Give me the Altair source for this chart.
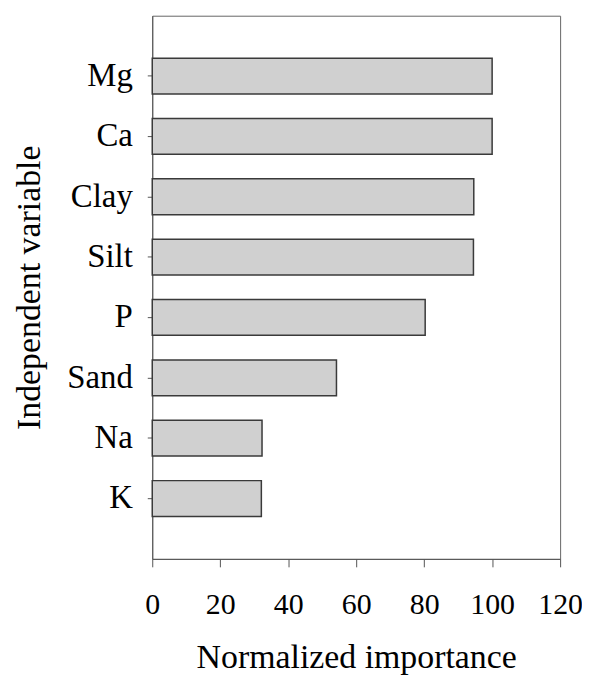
import altair as alt
import pandas as pd

variables = ["Mg", "Ca", "Clay", "Silt", "P", "Sand", "Na", "K"]
importance = [100, 100, 94.6, 94.5, 80.3, 54.2, 32.3, 32.1]
x_ticks = [0, 20, 40, 60, 80, 100, 120]

df = pd.DataFrame({"variable": variables, "importance": importance})

FONT = "Liberation Serif"

chart = alt.Chart(df).mark_bar(
    fill="#d0d0d0", stroke="#3a3a3a", strokeWidth=1.5
).encode(
    x=alt.X(
        "importance:Q",
        scale=alt.Scale(domain=[0, 120], nice=False, zero=True),
        axis=alt.Axis(
            values=x_ticks, title="Normalized importance", grid=False,
            labelFontSize=30, titleFontSize=34, labelFont=FONT, titleFont=FONT,
            labelColor="black", titleColor="black", titleFontWeight="normal",
            domainColor="#555", tickColor="#555", tickSize=8, labelPadding=23,
            titlePadding=21, labelFlush=False,
        ),
    ),
    y=alt.Y(
        "variable:N",
        sort=variables,
        scale=alt.Scale(paddingInner=0.407, paddingOuter=0.7035),
        axis=alt.Axis(
            title="Independent variable", grid=False,
            labelFontSize=33, titleFontSize=34, labelFont=FONT, titleFont=FONT,
            labelColor="black", titleColor="black", titleFontWeight="normal",
            domainColor="#555", tickColor="#555", tickSize=5, labelPadding=15,
            titlePadding=20,
        ),
    ),
).properties(
    width=410, height=546,
    autosize=alt.AutoSizeParams(type="none"),
    padding={"left": 145, "top": 6, "right": 22, "bottom": 118},
).configure_view(stroke="#666", strokeWidth=1)

chart.save("out.html", embed_options={"renderer": "svg", "actions": False})
